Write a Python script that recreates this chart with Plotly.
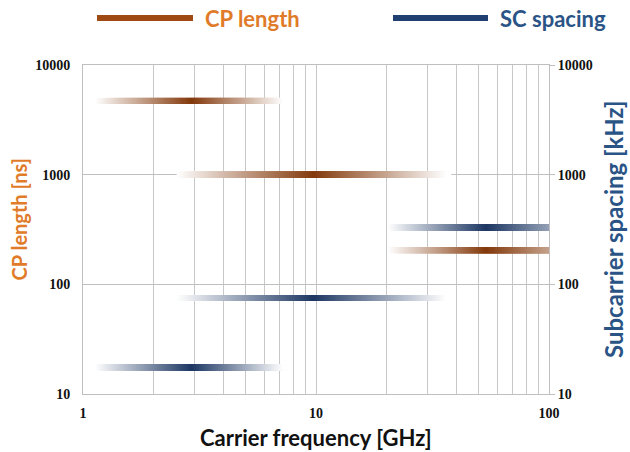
import numpy as np
import plotly.graph_objects as go

# ---- data ----
freq_ticks = [1, 10, 100]
freq_tick_labels = ["1", "10", "100"]
freq_grid = [1, 2, 3, 4, 5, 6, 7, 8, 9, 10, 20, 30, 40, 50, 60, 70, 80, 90, 100]
y_ticks = [10, 100, 1000, 10000]
y_tick_labels = ["10", "100", "1000", "10000"]

# CP length bars [ns]: value, start freq, peak freq, end freq (GHz)
cp_values = [4700, 1000, 205]
cp_start = [1.16, 2.6, 21]
cp_peak = [3.0, 10, 55]
cp_end = [7.4, 37, 180]

# SC spacing bars [kHz]
sc_values = [17.5, 75, 330]
sc_start = [1.16, 2.6, 21]
sc_peak = [3.0, 10, 55]
sc_end = [7.4, 37, 180]

CP_COLOR = (132, 58, 12)
SC_COLOR = (30, 56, 100)
CP_LEGEND = "#9E4A12"
SC_LEGEND = "#1F4070"
CP_TEXT = "#E07B2A"
SC_TEXT = "#2B5486"

fig = go.Figure()


def gradient_bar(value, x0, xp, x1, rgb, yaxis):
    n = 400
    lx = np.linspace(np.log10(x0), np.log10(x1), n)
    lp = np.log10(xp)
    cols = []
    for v in lx:
        if v <= lp:
            t = (v - np.log10(x0)) / (lp - np.log10(x0))
        else:
            t = (np.log10(x1) - v) / (np.log10(x1) - lp)
        t = max(0.0, min(1.0, t))
        r = int(255 + (rgb[0] - 255) * t)
        g = int(255 + (rgb[1] - 255) * t)
        b = int(255 + (rgb[2] - 255) * t)
        cols.append(f"rgb({r},{g},{b})")
    fig.add_trace(go.Scatter(
        x=10 ** lx, y=[value] * n, mode="markers",
        marker=dict(symbol="square", size=6, color=cols, line=dict(width=0)),
        yaxis=yaxis, showlegend=False, hoverinfo="skip", cliponaxis=True))


for v, a, p, b in zip(cp_values, cp_start, cp_peak, cp_end):
    gradient_bar(v, a, p, b, CP_COLOR, "y")
for v, a, p, b in zip(sc_values, sc_start, sc_peak, sc_end):
    gradient_bar(v, a, p, b, SC_COLOR, "y2")

tick_font = dict(family="Liberation Serif", size=14, color="#111111", weight="bold")
grid_c = "#C8C8C8"

fig.update_layout(
    width=630, height=452,
    margin=dict(l=83, r=81, t=65, b=58),
    paper_bgcolor="white", plot_bgcolor="white",
    showlegend=False,
    xaxis=dict(type="log", range=[0, 2], tickvals=freq_grid,
               ticktext=[freq_tick_labels[freq_ticks.index(f)] if f in freq_ticks else "" for f in freq_grid],
               showgrid=True, gridcolor=grid_c, gridwidth=1,
               showline=True, linecolor="#BFBFBF", linewidth=1, mirror=True,
               ticks="", tickfont=tick_font, ticklabelstandoff=6, zeroline=False),
    yaxis=dict(type="log", range=[1, 4], tickvals=y_ticks, ticktext=y_tick_labels,
               showgrid=True, gridcolor="#BFBFBF", gridwidth=1,
               showline=True, linecolor="#BFBFBF", linewidth=1,
               ticks="", tickfont=tick_font, ticklabelstandoff=9, zeroline=False),
    yaxis2=dict(type="log", range=[1, 4], tickvals=y_ticks, ticktext=y_tick_labels,
                overlaying="y", side="right", showgrid=False,
                showline=True, linecolor="#BFBFBF", linewidth=1,
                ticks="outside", ticklen=5, tickcolor="#BFBFBF",
                tickfont=tick_font, zeroline=False),
)

title_font = "Lato"
fig.add_annotation(text="<b>Carrier frequency [GHz]</b>", xref="paper", yref="paper",
                   x=0.5, y=-44 / 329, xanchor="center", yanchor="middle", showarrow=False,
                   font=dict(family=title_font, size=22, color="#111111"))
fig.add_annotation(text="<b>CP length [ns]</b>", xref="paper", yref="paper",
                   x=-64.5 / 466, y=(394 - 219) / 329, xanchor="center", yanchor="middle", textangle=-90,
                   showarrow=False, font=dict(family=title_font, size=20, color=CP_TEXT))
fig.add_annotation(text="<b>Subcarrier spacing [kHz]</b>", xref="paper", yref="paper",
                   x=(613 - 83) / 466, y=(394 - 229) / 329, xanchor="center", yanchor="middle", textangle=-90,
                   showarrow=False, font=dict(family=title_font, size=24, color=SC_TEXT))

# custom legend
ly = 1 + 47 / 329
fig.add_shape(type="line", xref="paper", yref="paper", x0=(97 - 83) / 466, x1=(193 - 83) / 466,
              y0=ly, y1=ly, line=dict(color=CP_LEGEND, width=6))
fig.add_shape(type="line", xref="paper", yref="paper", x0=(393 - 83) / 466, x1=(488 - 83) / 466,
              y0=ly, y1=ly, line=dict(color=SC_LEGEND, width=6))
fig.add_annotation(text="<b>CP length</b>", xref="paper", yref="paper",
                   x=(203 - 83) / 466, y=ly, xanchor="left", yanchor="middle",
                   showarrow=False, font=dict(family=title_font, size=22, color=CP_TEXT))
fig.add_annotation(text="<b>SC spacing</b>", xref="paper", yref="paper",
                   x=(498 - 83) / 466, y=ly, xanchor="left", yanchor="middle",
                   showarrow=False, font=dict(family=title_font, size=22, color=SC_TEXT))

fig.write_html("out.html", config={"displayModeBar": False},
               post_script="document.body.style.margin='0px';")
